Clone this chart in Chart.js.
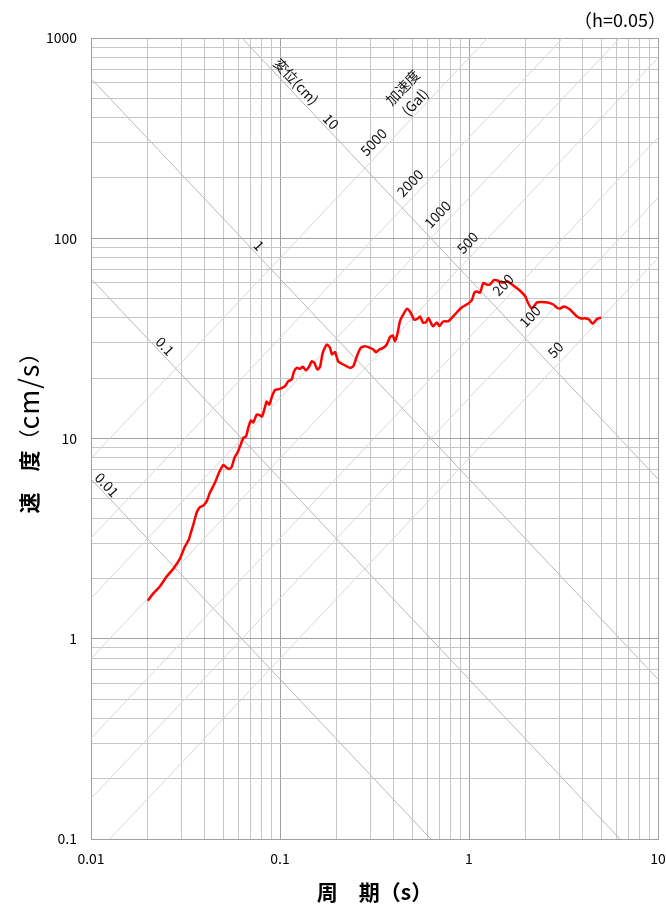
<!DOCTYPE html>
<html><head><meta charset="utf-8">
<script src="https://cdn.jsdelivr.net/npm/chart.js@4/dist/chart.umd.min.js"></script>
<style>html,body{margin:0;padding:0;background:#fff}</style>
</head><body>
<canvas id="c" width="666" height="908"></canvas>
<script>
// ---- data ----
const periods = [
0.0200, 0.0213, 0.0232, 0.0252, 0.0273, 0.0296, 0.0314, 0.0328, 0.0338, 0.0348,
0.03625, 0.0375, 0.0393, 0.0409, 0.0426, 0.0453, 0.0476, 0.0501, 0.0521, 0.0537,
0.0555, 0.0575, 0.0596, 0.0614, 0.0640, 0.0661, 0.0680, 0.0702, 0.0722, 0.0753,
0.0779, 0.0803, 0.0833, 0.0850, 0.0878, 0.0907, 0.0941, 0.100, 0.1063, 0.1106,
0.1153, 0.1186, 0.1226, 0.1276, 0.1318, 0.1373, 0.1429, 0.1472, 0.1519, 0.1576,
0.1628, 0.1683, 0.1767, 0.1840, 0.1884, 0.1954, 0.2034, 0.2162, 0.2347, 0.2443,
0.2546, 0.2673, 0.2817, 0.2994, 0.3117, 0.3221, 0.3353, 0.3521, 0.3670, 0.3820,
0.3948, 0.4060, 0.4175, 0.4314, 0.4491, 0.4699, 0.4914, 0.5117, 0.5327, 0.5504,
0.5709, 0.5922, 0.6092, 0.6349, 0.6474, 0.6749, 0.6983, 0.7287, 0.7773, 0.8431,
0.9071, 0.9526, 0.9915, 1.033, 1.069, 1.102, 1.144, 1.190, 1.241, 1.292,
1.356, 1.415, 1.495, 1.598, 1.716, 1.861, 1.979, 2.060, 2.147, 2.222,
2.291, 2.426, 2.603, 2.793, 2.921, 3.030, 3.181, 3.422, 3.714, 3.914,
4.110, 4.315, 4.514, 4.740, 5.000];
const velocities = [
1.55, 1.68, 1.83, 2.05, 2.24, 2.52, 2.89, 3.10, 3.40, 3.72,
4.27, 4.52, 4.63, 4.85, 5.37, 6.03, 6.77, 7.38, 7.17, 7.04,
7.21, 8.04, 8.51, 9.12, 10.06, 10.23, 11.35, 12.30, 12.02, 13.18,
13.10, 12.88, 14.36, 15.30, 14.78, 16.21, 17.47, 17.71, 18.25, 19.32,
19.71, 21.61, 22.55, 22.29, 22.81, 21.93, 22.96, 24.32, 23.88, 22.11,
22.76, 26.79, 29.47, 28.37, 26.28, 26.98, 24.24, 23.42, 22.55, 22.96,
25.59, 28.37, 28.90, 28.37, 27.82, 26.98, 27.82, 28.37, 29.47, 32.12,
32.68, 30.61, 33.06, 38.53, 41.62, 44.44, 42.44, 39.28, 39.60, 40.66,
37.95, 38.08, 39.96, 37.09, 36.37, 37.95, 36.46, 38.39, 38.53, 41.62,
44.85, 46.16, 47.23, 48.89, 53.61, 54.23, 53.42, 59.77, 58.75, 58.75,
61.87, 61.52, 59.91, 60.81, 58.08, 54.71, 51.47, 47.23, 44.59, 46.16,
47.78, 48.05, 47.78, 46.69, 44.95, 44.59, 45.63, 44.08, 40.80, 39.74,
39.83, 39.28, 37.39, 39.42, 40.20];
const periodTicks = [0.01, 0.1, 1, 10];
const velocityTicks = [0.1, 1, 10, 100, 1000];
const displacementLevels = [0.01, 0.1, 1, 10];          // cm
const accelerationLevels = [50, 100, 200, 500, 1000, 2000, 5000]; // Gal

// ---- label placement (period along each diagonal where its label sits) ----
const dispLabelPeriods = [0.01215, 0.02465, 0.0774, 0.1862];
const accLabelPeriods = [2.869, 2.102, 1.513, 0.9819, 0.6811, 0.4876, 0.3124];

const TWO_PI = 2 * Math.PI;
const MAJOR = '#a0a0a0', MINOR = '#c6c6c6', DISP = '#b9b9b9', ACC = '#d8d8d8';
const FONT = "'Noto Sans CJK JP', 'Noto Sans', sans-serif";
Chart.defaults.font.family = FONT;

function logTicks(min, max) {
  const out = [];
  for (let e = Math.round(Math.log10(min)); e <= Math.round(Math.log10(max)); e++) {
    for (let m = 1; m <= 9; m++) {
      const v = parseFloat((m * Math.pow(10, e)).toPrecision(6));
      if (v >= min * 0.9999 && v <= max * 1.0001) out.push(v);
    }
  }
  return out;
}
function isDecade(v) { const l = Math.log10(v); return Math.abs(l - Math.round(l)) < 1e-6; }
function inList(list, v) { return list.some(t => Math.abs(t - v) / t < 1e-6); }
const gridColor = c => (c.tick && isDecade(c.tick.value)) ? MAJOR : MINOR;

const datasets = [{
  data: periods.map((t, i) => ({x: t, y: velocities[i]})),
  borderColor: '#ff0000', borderWidth: 2.5, pointRadius: 0, tension: 0.2, order: 0
}];
displacementLevels.forEach(d => datasets.push({
  data: [{x: 0.01, y: TWO_PI * d / 0.01}, {x: 10, y: TWO_PI * d / 10}],
  borderColor: DISP, borderWidth: 1, pointRadius: 0, order: 1
}));
accelerationLevels.forEach(a => datasets.push({
  data: [{x: 0.01, y: a * 0.01 / TWO_PI}, {x: 10, y: a * 10 / TWO_PI}],
  borderColor: ACC, borderWidth: 1, pointRadius: 0, order: 2
}));

const textPlugin = {
  id: 'texts',
  afterDatasetsDraw(chart) {
    const {ctx, scales: {x, y}} = chart;
    const dx = x.getPixelForValue(1) - x.getPixelForValue(0.1);
    const dy = y.getPixelForValue(1) - y.getPixelForValue(10);
    const ang = Math.atan2(dy, dx);
    ctx.save();
    ctx.fillStyle = '#111';
    ctx.font = '14px ' + FONT;
    ctx.textAlign = 'center';
    ctx.textBaseline = 'middle';
    const put = (txt, px, py, rot, extra) => {
      ctx.save(); ctx.translate(px, py); ctx.rotate(rot);
      ctx.fillText(txt, 0, 0);
      if (extra) ctx.fillText(extra.t, extra.dx, extra.dy);
      ctx.restore();
    };
    displacementLevels.forEach((d, i) => {
      const T = dispLabelPeriods[i];
      put(String(d), x.getPixelForValue(T), y.getPixelForValue(TWO_PI * d / T) - 11, ang);
    });
    accelerationLevels.forEach((a, i) => {
      const T = accLabelPeriods[i];
      put(String(a), x.getPixelForValue(T), y.getPixelForValue(a * T / TWO_PI) - 17, -ang);
    });
    // captions for the diagonals
    let T = 0.1216;
    put('変位(cm)', x.getPixelForValue(T), y.getPixelForValue(TWO_PI * 10 / T) - 14, ang);
    T = 0.5181;
    put('(Gal)', x.getPixelForValue(T), y.getPixelForValue(5000 * T / TWO_PI) - 13, -ang,
        {t: '加速度', dx: 2, dy: -19});
    // damping note
    ctx.font = '18px ' + FONT;
    ctx.textAlign = 'right';
    ctx.fillStyle = '#000';
    ctx.fillText('（h=0.05）', 666, 20);
    // y axis title: bold kanji, regular unit
    const ca = chart.chartArea;
    ctx.translate(29, (ca.top + ca.bottom) / 2);
    ctx.rotate(-Math.PI / 2);
    ctx.textAlign = 'left';
    let cur = -75;
    const run = (t, font, gap, ls) => {
      ctx.font = font;
      ctx.letterSpacing = ls || '0px';
      ctx.fillText(t, cur, 0);
      cur += ctx.measureText(t).width + (gap || 0);
    };
    run('速', 'bold 21px ' + FONT, 21);
    run('度', 'bold 21px ' + FONT);
    run('（', '21px ' + FONT);
    run('cm/s', '27px ' + FONT, 0, '1px');
    run('）', '21px ' + FONT);
    ctx.restore();
  }
};

new Chart(document.getElementById('c'), {
  type: 'line',
  data: {datasets},
  plugins: [textPlugin],
  options: {
    responsive: false, animation: false, devicePixelRatio: 1,
    layout: {padding: {top: 38, right: 8, left: 0, bottom: 0}},
    plugins: {legend: {display: false}, tooltip: {enabled: false}, title: {display: false}},
    scales: {
      x: {
        type: 'logarithmic', min: 0.01, max: 10, position: 'bottom',
        afterBuildTicks: s => { s.ticks = logTicks(0.01, 10).map(v => ({value: v})); },
        afterFit: s => { s.height = 69; s.paddingLeft = 0; s.paddingRight = 0; },
        grid: {color: gridColor, drawTicks: false, lineWidth: 1},
        border: {color: MAJOR, width: 1},
        ticks: {autoSkip: false, maxRotation: 0, padding: 11, color: '#000', font: {size: 14},
          callback: v => inList(periodTicks, v) ? String(v) : ''},
        title: {display: true, text: '周　期（s）', color: '#000',
          font: {size: 21, weight: 'bold'}, padding: {top: 0, bottom: 3}}
      },
      y: {
        type: 'logarithmic', min: 0.1, max: 1000, position: 'left',
        afterBuildTicks: s => { s.ticks = logTicks(0.1, 1000).map(v => ({value: v})); },
        afterFit: s => { s.width = 91; s.paddingTop = 0; s.paddingBottom = 0; },
        grid: {color: gridColor, drawTicks: false, lineWidth: 1},
        border: {color: MAJOR, width: 1},
        ticks: {autoSkip: false, padding: 14, color: '#000', font: {size: 14},
          callback: v => inList(velocityTicks, v) ? String(v) : ''},
        title: {display: false}
      }
    }
  }
});
</script>
</body></html>
